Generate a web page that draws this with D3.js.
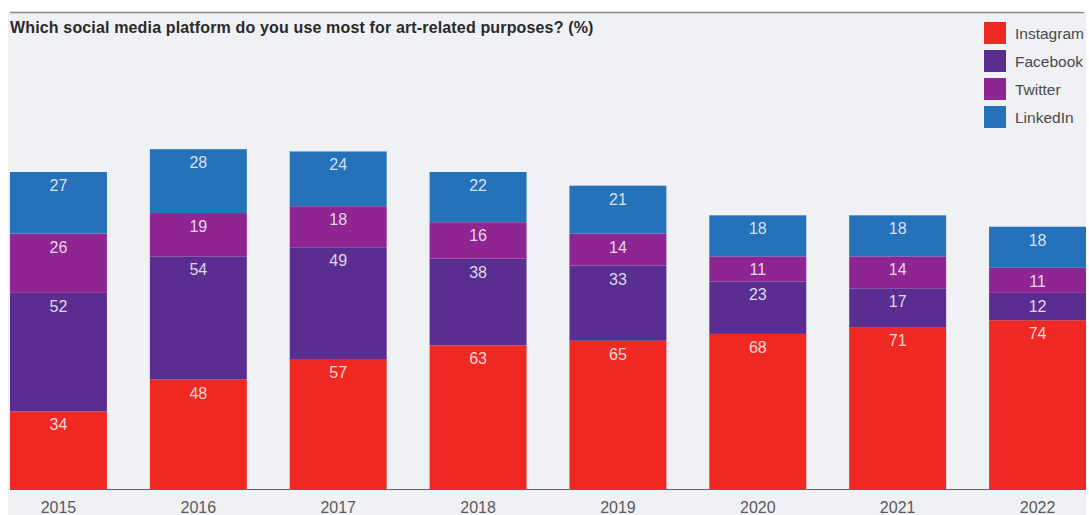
<!DOCTYPE html>
<html>
<head>
<meta charset="utf-8">
<script src="https://cdn.jsdelivr.net/npm/d3@7"></script>
<style>
  body { margin: 0; background: #fff; }
  svg { display: block; font-family: "Liberation Sans", Arial, Helvetica, sans-serif; }
</style>
</head>
<body>
<div id="chart"></div>
<script>
const years = ["2015", "2016", "2017", "2018", "2019", "2020", "2021", "2022"];
const platforms = ["Instagram", "Facebook", "Twitter", "LinkedIn"];
const instagram = [34, 48, 57, 63, 65, 68, 71, 74];
const facebook = [52, 54, 49, 38, 33, 23, 17, 12];
const twitter = [26, 19, 18, 16, 14, 11, 14, 11];
const linkedin = [27, 28, 24, 22, 21, 18, 18, 18];
const colors = ["#ef2922", "#5a2e91", "#8e2592", "#2571ba"];

const width = 1089, height = 515;
const svg = d3.select("#chart").append("svg")
  .attr("width", width)
  .attr("height", height);

// panel background + top rule
svg.append("rect")
  .attr("x", 8).attr("y", 13)
  .attr("width", 1078).attr("height", height - 13)
  .attr("fill", "#eff1f4");
svg.append("line")
  .attr("x1", 10).attr("x2", 1084)
  .attr("y1", 12.5).attr("y2", 12.5)
  .attr("stroke", "#8a8a8a").attr("stroke-width", 1.5);

svg.append("text")
  .attr("x", 10).attr("y", 33)
  .attr("font-size", 16).attr("font-weight", "bold")
  .attr("letter-spacing", 0.15)
  .attr("fill", "#2a2a2a")
  .text("Which social media platform do you use most for art-related purposes? (%)");

// stack data
const table = years.map((y, i) => ({
  year: y,
  Instagram: instagram[i],
  Facebook: facebook[i],
  Twitter: twitter[i],
  LinkedIn: linkedin[i]
}));
const series = d3.stack().keys(platforms)(table);

const x = d3.scaleBand()
  .domain(years)
  .range([10, 1086])
  .paddingInner(0.307)
  .paddingOuter(0);

const y = d3.scaleLinear()
  .domain([0, 139])
  .range([489, 172]);

const color = d3.scaleOrdinal().domain(platforms).range(colors);

const groups = svg.append("g").selectAll("g")
  .data(series)
  .join("g")
  .attr("fill", d => color(d.key));

groups.selectAll("rect")
  .data(d => d)
  .join("rect")
  .attr("x", d => x(d.data.year))
  .attr("y", d => y(d[1]))
  .attr("width", x.bandwidth())
  .attr("height", d => y(d[0]) - y(d[1]));

groups.selectAll("text")
  .data(d => d)
  .join("text")
  .attr("x", d => x(d.data.year) + x.bandwidth() / 2)
  .attr("y", d => y(d[1]) + 19)
  .attr("text-anchor", "middle")
  .attr("font-size", 16)
  .attr("fill", "#fff")
  .attr("fill-opacity", 0.82)
  .text(d => d[1] - d[0]);

// baseline + x axis
svg.append("line")
  .attr("x1", 10).attr("x2", 1086)
  .attr("y1", 489.5).attr("y2", 489.5)
  .attr("stroke", "#666").attr("stroke-width", 1);

const xAxis = svg.append("g")
  .attr("transform", "translate(0,489)")
  .call(d3.axisBottom(x).tickSize(0));
xAxis.select(".domain").remove();
xAxis.selectAll("text")
  .attr("y", 24)
  .attr("dy", 0)
  .attr("font-size", 16)
  .attr("font-family", "Liberation Sans, Arial, sans-serif")
  .attr("fill", "#5a5a5a");

// legend
const legend = svg.append("g").selectAll("g")
  .data(platforms)
  .join("g")
  .attr("transform", (d, i) => `translate(984,${22 + i * 28})`);
legend.append("rect")
  .attr("width", 22).attr("height", 22)
  .attr("fill", d => color(d));
legend.append("text")
  .attr("x", 31).attr("y", 16.5)
  .attr("font-size", 15.5)
  .attr("fill", "#4a4a4a")
  .text(d => d);
</script>
</body>
</html>
